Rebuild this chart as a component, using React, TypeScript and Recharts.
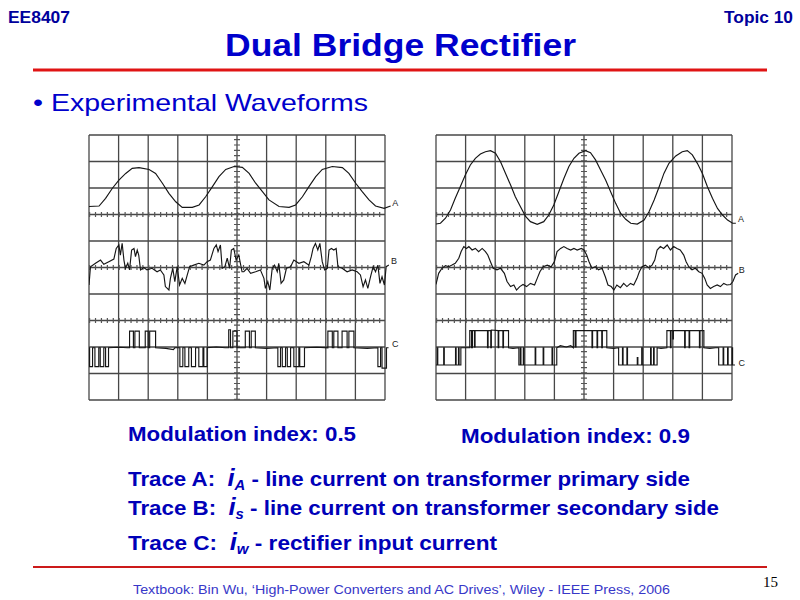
import React from 'react';
import { LineChart, Line, XAxis, YAxis, ReferenceLine, ReferenceDot } from 'recharts';

// scope screens: 10 x 10 divisions, points are [x div, y div]
const FONT = '"Liberation Sans", Arial, Helvetica, sans-serif';
const GRID = [0, 1, 2, 3, 4, 5, 6, 7, 8, 9, 10];
const TICKED_ROWS = [7, 5, 3];

// modulation index 0.5
const leftA: [number, number][] = [
  [0, 7.3], [0.34, 7.32], [0.56, 7.61], [0.79, 7.99], [1.01, 8.3], [1.24, 8.55], [1.46, 8.74], [1.69, 8.77],
  [2.03, 8.7], [2.25, 8.55], [2.48, 8.18], [2.7, 7.8], [2.93, 7.48], [3.15, 7.27], [3.49, 7.27], [3.72, 7.36],
  [3.94, 7.67], [4.17, 8.05], [4.39, 8.43], [4.62, 8.7], [4.9, 8.81], [5.18, 8.78], [5.41, 8.55], [5.63, 8.18],
  [5.86, 7.86], [6.08, 7.55], [6.42, 7.3], [6.76, 7.27], [6.98, 7.36], [7.21, 7.67], [7.43, 8.05], [7.66, 8.43],
  [7.88, 8.7], [8.22, 8.81], [8.56, 8.77], [8.78, 8.55], [9.01, 8.18], [9.23, 7.86], [9.46, 7.55], [9.68, 7.32],
  [9.97, 7.23], [10.19, 7.32],
];

const leftB: [number, number][] = [
  [0, 4.34], [0.05, 5.03], [0.22, 5.16], [0.39, 5.28], [0.5, 5.12], [0.67, 5.22], [0.84, 5.32], [0.92, 5.72],
  [1.01, 5.85], [1.06, 5.47], [1.12, 5.91], [1.18, 5.28], [1.23, 4.97], [1.31, 5.16], [1.37, 4.91], [1.44, 5.66],
  [1.52, 5.72], [1.57, 5.41], [1.63, 5.66], [1.68, 5.47], [1.74, 4.91], [1.85, 5.0], [1.96, 4.91], [2.13, 4.97],
  [2.3, 4.84], [2.41, 4.91], [2.53, 4.72], [2.58, 4.28], [2.7, 4.15], [2.75, 4.59], [2.83, 4.97], [2.9, 4.47],
  [2.98, 5.03], [3.06, 4.34], [3.15, 4.59], [3.24, 4.4], [3.32, 4.72], [3.4, 5.03], [3.54, 5.09], [3.71, 5.16],
  [3.88, 5.09], [3.99, 5.22], [4.1, 5.28], [4.22, 5.72], [4.3, 5.85], [4.36, 5.6], [4.44, 5.85], [4.5, 4.97],
  [4.59, 5.03], [4.67, 5.35], [4.75, 4.97], [4.81, 5.66], [4.89, 5.72], [4.97, 5.28], [5.06, 5.47], [5.17, 4.84],
  [5.23, 4.84], [5.34, 4.97], [5.46, 4.78], [5.63, 4.84], [5.79, 4.91], [5.91, 4.59], [5.96, 4.21], [6.04, 4.47],
  [6.11, 4.15], [6.19, 4.97], [6.27, 5.09], [6.36, 4.84], [6.41, 5.16], [6.49, 4.4], [6.58, 4.53], [6.67, 4.97],
  [6.81, 5.03], [6.92, 5.28], [7.09, 5.16], [7.26, 5.22], [7.43, 5.09], [7.51, 5.41], [7.57, 5.72], [7.65, 5.91],
  [7.73, 5.66], [7.8, 5.91], [7.88, 5.22], [7.96, 4.91], [8.05, 4.97], [8.11, 5.66], [8.19, 5.72], [8.27, 5.66],
  [8.35, 5.72], [8.41, 5.03], [8.55, 4.97], [8.72, 4.84], [8.89, 4.91], [9.06, 4.84], [9.17, 4.72], [9.26, 4.28],
  [9.34, 4.53], [9.42, 4.21], [9.51, 4.65], [9.6, 5.03], [9.68, 4.84], [9.76, 5.09], [9.83, 4.4], [9.9, 4.65],
  [9.98, 4.34], [10.04, 5.03], [10.13, 5.09],
];

const leftC: [number, number][] = [
  [0, 1.97], [0.02, 1.97], [0.02, 1.26], [0.12, 1.26], [0.12, 1.97], [0.2, 1.97], [0.2, 1.26], [0.33, 1.26],
  [0.33, 1.97], [0.38, 1.97], [0.38, 1.26], [0.5, 1.26], [0.5, 1.97], [0.56, 1.97], [0.56, 1.26], [0.66, 1.26],
  [0.66, 1.97], [1.0, 1.99], [1.3, 1.97], [1.37, 1.97], [1.37, 2.6], [1.5, 2.6], [1.5, 1.97], [1.55, 1.97],
  [1.55, 2.6], [1.7, 2.6], [1.7, 1.97], [1.9, 1.97], [1.9, 2.6], [2.0, 2.6], [2.0, 1.97], [2.05, 1.97],
  [2.05, 2.6], [2.25, 2.6], [2.25, 1.97], [2.6, 1.95], [2.85, 1.9], [2.9, 1.97], [3.07, 1.97], [3.07, 1.26],
  [3.17, 1.26], [3.17, 1.97], [3.24, 1.97], [3.24, 1.26], [3.37, 1.26], [3.37, 1.97], [3.46, 1.97], [3.46, 1.26],
  [3.6, 1.26], [3.6, 1.97], [3.71, 1.97], [3.71, 1.26], [3.85, 1.26], [3.85, 1.97], [3.88, 1.97], [3.88, 1.26],
  [3.99, 1.26], [3.99, 1.97], [4.3, 2.0], [4.6, 1.97], [4.72, 1.97], [4.72, 2.65], [4.78, 2.65], [4.78, 1.97],
  [4.86, 1.97], [4.86, 2.6], [5.0, 2.6], [5.0, 1.97], [5.28, 1.97], [5.28, 2.6], [5.42, 2.6], [5.42, 1.97],
  [5.48, 1.97], [5.48, 2.6], [5.62, 2.6], [5.62, 1.97], [6.0, 1.95], [6.38, 1.97], [6.38, 1.26], [6.47, 1.26],
  [6.47, 1.97], [6.53, 1.97], [6.53, 1.26], [6.64, 1.26], [6.64, 1.97], [6.7, 1.97], [6.7, 1.26], [6.81, 1.26],
  [6.81, 1.97], [6.92, 1.97], [6.92, 1.26], [7.09, 1.26], [7.09, 1.97], [7.12, 1.97], [7.12, 1.26], [7.28, 1.26],
  [7.28, 1.97], [7.7, 1.99], [8.07, 1.97], [8.07, 2.6], [8.22, 2.6], [8.22, 1.97], [8.27, 1.97], [8.27, 2.6],
  [8.41, 2.6], [8.41, 1.97], [8.55, 1.97], [8.55, 2.6], [8.72, 2.6], [8.72, 1.97], [8.78, 1.97], [8.78, 2.6],
  [8.95, 2.6], [8.95, 1.97], [9.4, 1.95], [9.76, 1.97], [9.76, 1.26], [9.85, 1.26], [9.85, 1.97], [9.9, 1.97],
  [9.9, 1.2], [10.05, 1.2], [10.05, 1.97], [10.12, 1.97],
];

// modulation index 0.9
const rightA: [number, number][] = [
  [0, 6.64], [0.15, 6.67], [0.32, 6.86], [0.49, 7.17], [0.65, 7.61], [0.82, 8.05], [0.99, 8.49], [1.16, 8.87],
  [1.33, 9.12], [1.5, 9.28], [1.67, 9.37], [1.84, 9.41], [2.01, 9.31], [2.18, 8.99], [2.35, 8.55], [2.52, 8.11],
  [2.68, 7.67], [2.85, 7.3], [3.02, 6.94], [3.19, 6.73], [3.42, 6.63], [3.64, 6.73], [3.81, 6.98], [3.98, 7.36],
  [4.15, 7.86], [4.32, 8.36], [4.49, 8.81], [4.66, 9.12], [4.83, 9.31], [5.05, 9.41], [5.22, 9.33], [5.39, 9.06],
  [5.56, 8.68], [5.73, 8.3], [5.9, 7.86], [6.07, 7.42], [6.24, 7.04], [6.41, 6.82], [6.58, 6.67], [6.8, 6.64],
  [7.03, 6.79], [7.2, 7.11], [7.37, 7.55], [7.54, 8.05], [7.7, 8.55], [7.87, 8.93], [8.1, 9.21], [8.32, 9.37],
  [8.49, 9.41], [8.66, 9.25], [8.83, 8.93], [9.0, 8.55], [9.17, 8.05], [9.34, 7.61], [9.51, 7.23], [9.68, 6.98],
  [9.85, 6.79], [10.02, 6.67], [10.13, 6.67],
];

const rightB: [number, number][] = [
  [0, 4.36], [0.09, 4.78], [0.2, 4.97], [0.32, 5.07], [0.43, 5.03], [0.54, 5.09], [0.65, 5.16], [0.77, 5.35],
  [0.85, 5.6], [0.94, 5.79], [1.03, 5.72], [1.11, 5.79], [1.22, 5.66], [1.33, 5.72], [1.44, 5.6], [1.56, 5.72],
  [1.67, 5.6], [1.75, 5.47], [1.84, 5.22], [1.93, 4.97], [2.06, 4.91], [2.18, 4.97], [2.31, 4.78], [2.4, 4.47],
  [2.52, 4.28], [2.63, 4.34], [2.72, 4.15], [2.83, 4.28], [2.94, 4.36], [3.06, 4.28], [3.19, 4.4], [3.33, 4.34],
  [3.42, 4.59], [3.51, 4.84], [3.62, 5.03], [3.76, 5.09], [3.89, 5.03], [4.0, 5.22], [4.09, 5.6], [4.21, 5.72],
  [4.32, 5.79], [4.43, 5.72], [4.55, 5.66], [4.66, 5.72], [4.77, 5.66], [4.91, 5.72], [5.0, 5.66], [5.09, 5.47],
  [5.17, 5.22], [5.27, 4.97], [5.38, 5.03], [5.49, 4.91], [5.61, 4.97], [5.72, 4.65], [5.81, 4.34], [5.92, 4.28],
  [6.01, 4.15], [6.11, 4.34], [6.23, 4.24], [6.34, 4.4], [6.45, 4.28], [6.57, 4.4], [6.68, 4.34], [6.79, 4.59],
  [6.87, 4.84], [6.96, 5.03], [7.07, 5.09], [7.19, 4.99], [7.3, 5.09], [7.39, 5.28], [7.47, 5.66], [7.58, 5.79],
  [7.69, 5.72], [7.81, 5.85], [7.92, 5.66], [8.03, 5.79], [8.14, 5.72], [8.25, 5.66], [8.37, 5.47], [8.45, 5.22],
  [8.54, 5.03], [8.65, 4.91], [8.76, 4.97], [8.88, 4.84], [8.99, 4.78], [9.08, 4.59], [9.16, 4.34], [9.27, 4.21],
  [9.38, 4.28], [9.5, 4.34], [9.61, 4.28], [9.72, 4.4], [9.83, 4.34], [9.95, 4.36], [10.03, 4.47], [10.12, 4.72],
  [10.21, 4.78],
];

const rightC: [number, number][] = [
  [0, 1.32], [0.04, 1.32], [0.04, 1.97], [0.06, 1.97], [0.06, 1.32], [0.26, 1.32], [0.26, 1.97], [0.28, 1.97],
  [0.28, 1.32], [0.66, 1.32], [0.66, 1.97], [0.68, 1.97], [0.68, 1.32], [0.76, 1.32], [0.76, 1.97], [0.78, 1.97],
  [0.78, 1.32], [0.84, 1.32], [0.84, 1.97], [1.14, 1.97], [1.14, 2.62], [1.2, 2.62], [1.2, 1.97], [1.23, 1.97],
  [1.23, 2.62], [1.3, 2.62], [1.3, 2.0], [1.32, 2.0], [1.32, 2.62], [1.74, 2.62], [1.74, 1.97], [1.76, 1.97],
  [1.76, 2.62], [1.85, 2.62], [1.85, 1.97], [1.87, 1.97], [1.87, 2.64], [2.1, 2.62], [2.1, 1.97], [2.12, 1.97],
  [2.12, 2.62], [2.26, 2.62], [2.26, 1.97], [2.28, 1.97], [2.28, 2.62], [2.45, 2.62], [2.45, 1.97], [2.6, 1.95],
  [2.8, 1.97], [2.8, 1.32], [2.85, 1.32], [2.85, 1.97], [2.87, 1.97], [2.87, 1.32], [2.95, 1.32], [2.95, 1.97],
  [2.97, 1.97], [2.97, 1.32], [3.35, 1.32], [3.35, 1.97], [3.37, 1.97], [3.37, 1.32], [3.62, 1.32], [3.62, 1.97],
  [3.64, 1.97], [3.64, 1.32], [3.92, 1.32], [3.92, 1.97], [3.94, 1.97], [3.94, 1.32], [4.08, 1.32], [4.08, 1.97],
  [4.2, 2.05], [4.4, 2.0], [4.55, 2.05], [4.64, 1.97], [4.64, 2.62], [4.7, 2.62], [4.7, 2.0], [4.73, 2.0],
  [4.73, 2.62], [5.27, 2.62], [5.27, 1.97], [5.29, 1.97], [5.29, 2.62], [5.44, 2.62], [5.44, 1.97], [5.46, 1.97],
  [5.46, 2.62], [5.6, 2.62], [5.6, 1.97], [5.62, 1.97], [5.62, 2.62], [5.77, 2.62], [5.77, 1.97], [6.0, 1.95],
  [6.17, 1.97], [6.17, 1.32], [6.3, 1.32], [6.3, 1.97], [6.32, 1.97], [6.32, 1.32], [6.45, 1.32], [6.45, 1.97],
  [6.47, 1.97], [6.47, 1.32], [6.8, 1.32], [6.8, 1.6], [6.82, 1.6], [6.82, 1.32], [6.95, 1.32], [6.95, 1.97],
  [6.97, 1.97], [6.97, 1.32], [7.25, 1.32], [7.25, 1.97], [7.27, 1.97], [7.27, 1.32], [7.35, 1.32], [7.35, 1.97],
  [7.37, 1.97], [7.37, 1.32], [7.47, 1.32], [7.47, 1.97], [7.6, 1.95], [7.8, 1.97], [7.8, 2.62], [7.92, 2.62],
  [7.92, 1.97], [7.94, 1.97], [7.94, 2.62], [8.0, 2.62], [8.0, 2.3], [8.02, 2.3], [8.02, 2.62], [8.4, 2.62],
  [8.4, 1.97], [8.42, 1.97], [8.42, 2.62], [8.55, 2.62], [8.55, 1.97], [8.57, 1.97], [8.57, 2.62], [8.9, 2.62],
  [8.9, 1.97], [8.92, 1.97], [8.92, 2.62], [9.05, 2.62], [9.05, 1.97], [9.25, 1.95], [9.45, 1.97], [9.55, 1.97],
  [9.55, 1.32], [9.7, 1.32], [9.7, 1.97], [9.72, 1.97], [9.72, 1.32], [9.85, 1.32], [9.85, 1.97], [9.87, 1.97],
  [9.87, 1.32], [10.0, 1.32], [10.0, 1.97], [10.02, 1.97], [10.02, 1.32], [10.1, 1.32],
];

const TRACE_NAMES = ['A', 'B', 'C'];
const leftLabelPos: [number, number][] = [[10.35, 7.43], [10.3, 5.25], [10.35, 2.11]];
const rightLabelPos: [number, number][] = [[10.3, 6.83], [10.33, 4.9], [10.33, 1.41]];

const toRows = (pts: [number, number][]) => pts.map(([x, y]) => ({ x, y }));

const PAD = 4;
const PLOT_W = 310.8; // 10.5 divisions at 29.6 px
const PLOT_H = 265;

type ScopeProps = {
  left: number;
  traces: [number, number][][];
  labels: [number, number][];
};

function Scope({ left, traces, labels }: ScopeProps) {
  return (
    <div style={{ position: 'absolute', left: left - PAD, top: 135 - PAD }}>
      <LineChart
        width={PLOT_W + PAD * 2}
        height={PLOT_H + PAD * 2}
        margin={{ top: PAD, right: PAD, bottom: PAD, left: PAD }}
      >
        <XAxis type="number" dataKey="x" domain={[0, 10.5]} hide allowDataOverflow />
        <YAxis type="number" dataKey="y" domain={[0, 10]} hide allowDataOverflow />
        {GRID.map((k) => (
          <ReferenceLine
            key={'v' + k}
            segment={[{ x: k, y: 0 }, { x: k, y: 10 }]}
            stroke="#474747"
            strokeWidth={1.3}
          />
        ))}
        {GRID.map((k) => (
          <ReferenceLine
            key={'h' + k}
            segment={[{ x: 0, y: k }, { x: 10, y: k }]}
            stroke="#474747"
            strokeWidth={1.3}
          />
        ))}
        {TICKED_ROWS.map((k) => (
          <ReferenceLine
            key={'t' + k}
            segment={[{ x: 0, y: k }, { x: 10, y: k }]}
            stroke="#555"
            strokeWidth={5}
            strokeDasharray="1.2 4.72"
          />
        ))}
        <ReferenceLine
          segment={[{ x: 5, y: 0 }, { x: 5, y: 10 }]}
          stroke="#555"
          strokeWidth={6}
          strokeDasharray="1.2 4.1"
        />
        {traces.map((pts, i) => (
          <Line
            key={i}
            data={toRows(pts)}
            dataKey="y"
            type="linear"
            stroke="#161616"
            strokeWidth={1.15}
            dot={false}
            activeDot={false}
            isAnimationActive={false}
          />
        ))}
        {labels.map(([x, y], i) => (
          <ReferenceDot
            key={'l' + i}
            x={x}
            y={y}
            r={0}
            ifOverflow="visible"
            label={{ value: TRACE_NAMES[i], position: 'center', fontSize: 9, fill: '#222', fontFamily: FONT }}
          />
        ))}
      </LineChart>
    </div>
  );
}

export default function App() {
  const blue = '#0000b8';
  return (
    <div
      style={{
        position: 'absolute',
        left: 0,
        top: 0,
        width: 800,
        height: 600,
        background: '#fff',
        overflow: 'hidden',
      }}
    >
      <svg width={800} height={600} style={{ position: 'absolute', left: 0, top: 0 }}>
        <g fontFamily={FONT}>
          <text x={8} y={23} fontSize={17} fontWeight="bold" fill="#00009c" textLength={62} lengthAdjust="spacingAndGlyphs">
            EE8407
          </text>
          <text x={724} y={23} fontSize={17} fontWeight="bold" fill="#00009c" textLength={69} lengthAdjust="spacingAndGlyphs">
            Topic 10
          </text>
          <text x={225} y={56} fontSize={32} fontWeight="bold" fill="#0000cc" textLength={351} lengthAdjust="spacingAndGlyphs">
            Dual Bridge Rectifier
          </text>
          <line x1={33} y1={70} x2={767} y2={70} stroke="#e01414" strokeWidth={3} />
          <text x={33} y={111} fontSize={24} fill="#0000cc" textLength={335} lengthAdjust="spacingAndGlyphs">
            • Experimental Waveforms
          </text>

          <text x={128} y={441} fontSize={21} fontWeight="bold" fill={blue} textLength={228} lengthAdjust="spacingAndGlyphs">
            Modulation index: 0.5
          </text>
          <text x={461} y={443} fontSize={21} fontWeight="bold" fill={blue} textLength={229} lengthAdjust="spacingAndGlyphs">
            Modulation index: 0.9
          </text>

          <text x={128} y={486} fontSize={21} fontWeight="bold" fill={blue} textLength={562} lengthAdjust="spacingAndGlyphs">
            Trace A:{'\u00a0\u00a0'}
            <tspan fontStyle="italic" fontSize={24}>i</tspan>
            <tspan fontStyle="italic" fontSize={14} dy={4}>A</tspan>
            <tspan dy={-4}> - line current on transformer primary side</tspan>
          </text>
          <text x={128} y={515} fontSize={21} fontWeight="bold" fill={blue} textLength={591} lengthAdjust="spacingAndGlyphs">
            Trace B:{'\u00a0\u00a0'}
            <tspan fontStyle="italic" fontSize={24}>i</tspan>
            <tspan fontStyle="italic" fontSize={14} dy={4}>s</tspan>
            <tspan dy={-4}> - line current on transformer secondary side</tspan>
          </text>
          <text x={128} y={550} fontSize={21} fontWeight="bold" fill={blue} textLength={369} lengthAdjust="spacingAndGlyphs">
            Trace C:{'\u00a0\u00a0'}
            <tspan fontStyle="italic" fontSize={24}>i</tspan>
            <tspan fontStyle="italic" fontSize={14} dy={4}>w</tspan>
            <tspan dy={-4}> - rectifier input current</tspan>
          </text>

          <line x1={33} y1={567} x2={767} y2={567} stroke="#cc1a1a" strokeWidth={2} />
          <text x={133} y={594} fontSize={13} fill="#3838c8" textLength={537} lengthAdjust="spacingAndGlyphs">
            Textbook: Bin Wu, ‘High-Power Converters and AC Drives’, Wiley - IEEE Press, 2006
          </text>
          <text x={763} y={587} fontSize={15} fill="#000" fontFamily='"Liberation Serif", "Times New Roman", serif'>
            15
          </text>
        </g>
      </svg>
      <Scope left={88.5} traces={[leftA, leftB, leftC]} labels={leftLabelPos} />
      <Scope left={435.7} traces={[rightA, rightB, rightC]} labels={rightLabelPos} />
    </div>
  );
}
